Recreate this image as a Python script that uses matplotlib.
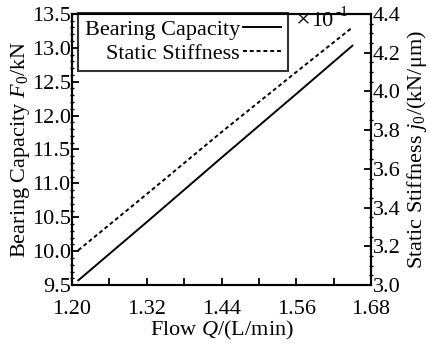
import matplotlib
matplotlib.use("Agg")
import matplotlib.pyplot as plt
from matplotlib.ticker import MultipleLocator
from matplotlib.lines import Line2D

plt.rcParams['font.family'] = ['Liberation Serif', 'DejaVu Serif']
plt.rcParams['mathtext.fontset'] = 'custom'
plt.rcParams['mathtext.rm'] = 'Liberation Serif'
plt.rcParams['mathtext.it'] = 'Liberation Serif:italic'

# Data
flow = [1.21, 1.32, 1.44, 1.56, 1.65]
capacity = [9.57, 10.43, 11.38, 12.32, 13.03]            # kN
stiffness = [3.18, 3.47, 3.79, 4.10, 4.33]               # x10^-1 kN/um

xticks = [1.20, 1.32, 1.44, 1.56, 1.68]

fig = plt.figure(figsize=(4.29, 3.46), dpi=100)
ax = fig.add_axes([0.168, 0.176, 0.697, 0.784])
ax2 = ax.twinx()

ax.plot(flow, capacity, color='black', lw=1.4, ls='-')
ax2.plot(flow, stiffness, color='black', lw=1.4, ls=(0, (2, 1.5)))

fs = 16
ax.set_xlim(1.20, 1.68)
ax.set_ylim(9.5, 13.5)
ax2.set_ylim(3.0, 4.4)
ax.set_xticks(xticks)
ax.set_xticklabels([f"{v:.2f}" for v in xticks])
ax.xaxis.set_minor_locator(MultipleLocator(0.06))
ax.yaxis.set_major_locator(MultipleLocator(0.5))
ax.yaxis.set_minor_locator(MultipleLocator(0.1))
ax2.yaxis.set_major_locator(MultipleLocator(0.2))
ax2.yaxis.set_minor_locator(MultipleLocator(0.05))
ax.set_yticklabels([f"{v:.1f}" for v in ax.get_yticks()])
ax2.set_yticklabels([f"{v:.1f}" for v in ax2.get_yticks()])

for a in (ax, ax2):
    for s in a.spines.values():
        s.set_linewidth(1.5)
ax.tick_params(axis='y', which='major', direction='in', length=5, width=1.3,
               labelsize=fs, pad=1)
ax.tick_params(axis='x', which='major', direction='in', length=5, width=1.3,
               labelsize=fs, pad=11, top=False)
ax.tick_params(axis='x', which='minor', direction='in', length=5, width=1.3, top=False)
ax.tick_params(axis='y', which='minor', direction='inout', length=3, width=1.0)
ax2.tick_params(axis='y', which='major', direction='in', length=5, width=1.3,
                labelsize=fs, pad=1)
ax2.tick_params(axis='y', which='minor', direction='inout', length=3, width=1.0)

ax.set_xlabel('Flow $Q$/(L/min)', fontsize=fs, labelpad=0)
ax.set_ylabel('Bearing Capacity $F_0$/kN', fontsize=fs, labelpad=0)
ax2.set_ylabel('Static Stiffness $j_0$/(kN/μm)', fontsize=fs, labelpad=3,
               rotation=90)

handles = [Line2D([], [], color='black', lw=1.4, ls='-'),
           Line2D([], [], color='black', lw=1.4, ls=(0, (2, 1.5)))]
leg = ax.legend(handles, ['Bearing Capacity', 'Static Stiffness'],
                loc='upper left', bbox_to_anchor=(0.02, 1.003), fontsize=fs,
                markerfirst=False, frameon=True, fancybox=False,
                handlelength=1.7, handletextpad=0.15, borderpad=0.3,
                labelspacing=0.15, borderaxespad=0)
leg.get_frame().set_edgecolor('black')
leg.get_frame().set_linewidth(1.5)

fig.text(296 / 429, 1 - 21 / 346, '×', fontsize=19, ha='left', va='center')
fig.text(311 / 429, 1 - 21 / 346, '10', fontsize=fs, ha='left', va='center')
fig.text(335 / 429, 1 - 12 / 346, '-1', fontsize=11, ha='left', va='center')

fig.savefig('out.png', dpi=100)
